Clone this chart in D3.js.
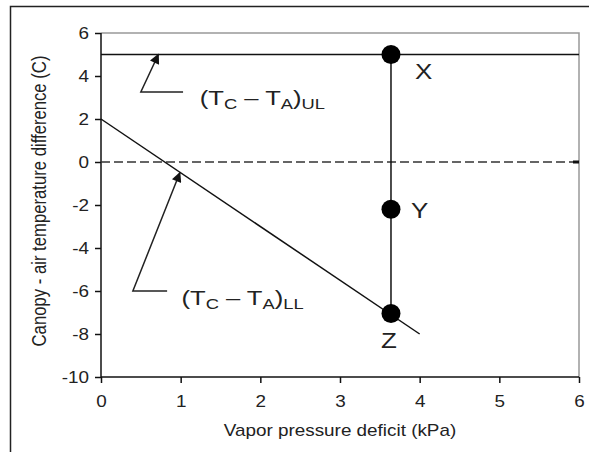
<!DOCTYPE html>
<html>
<head>
<meta charset="utf-8">
<script src="https://cdn.jsdelivr.net/npm/d3@7"></script>
<style>
  body { margin: 0; background: #fff; }
  text { font-family: "Liberation Sans", Arial, sans-serif; fill: #222; }
</style>
</head>
<body>
<svg width="589" height="452"></svg>
<script>
  // axis ticks
  let xTicks = [0, 1, 2, 3, 4, 5, 6];
  let yTicks = [-10, -8, -6, -4, -2, 0, 2, 4, 6];

  // upper limit, zero reference and lower limit baseline
  let upperLimit = 5;
  let zeroLine = 0;
  let lowerLimit = [{ x: 0, y: 2 }, { x: 4, y: -8 }];

  // the measured point at one VPD
  let pointNames = ["X", "Y", "Z"];
  let pointVpd = 3.64;
  let pointValues = [5, -2.2, -7.05];

  // text in the picture is a bit wider than the font
  let stretch = 1.18;

  let svg = d3.select("svg");

  let x = d3.scaleLinear().domain([0, 6]).range([101, 579]);
  let y = d3.scaleLinear().domain([-10, 6]).range([377, 33]);

  // outer frame (only top and left are visible)
  svg.append("path")
      .attr("d", "M10.5,452 V6.5 H589")
      .attr("fill", "none")
      .attr("stroke", "#222")
      .attr("stroke-width", 1.5);

  // grey box on top and right
  svg.append("path")
      .attr("d", `M${x(0)},${y(6)} H${x(6)} V${y(-10)}`)
      .attr("fill", "none")
      .attr("stroke", "#999")
      .attr("stroke-width", 1.5);

  let xAxis = svg.append("g")
      .attr("transform", `translate(0,${y(-10)})`)
      .call(d3.axisBottom(x).tickValues(xTicks).tickSize(6).tickPadding(13).tickFormat((d) => String(d)));

  let yAxis = svg.append("g")
      .attr("transform", `translate(${x(0)},0)`)
      .call(d3.axisLeft(y).tickValues(yTicks).tickSize(6).tickPadding(8).tickFormat((d) => String(d)));

  [xAxis, yAxis].forEach((g) => {
    g.select(".domain").attr("stroke", "#111").attr("stroke-width", 1.5);
    g.selectAll(".tick line").attr("stroke", "#111").attr("stroke-width", 1.5);
    g.selectAll(".tick text")
        .attr("fill", "#222")
        .style("font-family", "Liberation Sans, Arial, sans-serif")
        .style("font-size", "16px");
  });
  xAxis.selectAll(".tick text").attr("transform", `scale(${stretch},1)`);
  yAxis.selectAll(".tick text")
      .attr("x", -12 / stretch)
      .attr("transform", `scale(${stretch},1)`);
  xAxis.select(".domain").attr("d", `M${x(0)},0 H${x(6)}`);
  yAxis.select(".domain").attr("d", `M0,${y(6)} V${y(-10)}`);

  // axis titles
  svg.append("text")
      .attr("transform", `translate(${(x(0) + x(6)) / 2},436) scale(${stretch},1)`)
      .attr("text-anchor", "middle")
      .style("font-size", "16px")
      .text("Vapor pressure deficit (kPa)");

  svg.append("text")
      .attr("transform", `translate(46,${(y(6) + y(-10)) / 2 - 4}) rotate(-90) scale(1,${stretch})`)
      .attr("text-anchor", "middle")
      .style("font-size", "16.7px")
      .text("Canopy - air temperature difference (C)");

  // reference lines
  svg.append("line")
      .attr("x1", x(0)).attr("x2", x(6))
      .attr("y1", y(upperLimit)).attr("y2", y(upperLimit))
      .attr("stroke", "#111")
      .attr("stroke-width", 1.5);

  svg.append("line")
      .attr("x1", x(0)).attr("x2", x(6) - 4)
      .attr("y1", y(zeroLine)).attr("y2", y(zeroLine))
      .attr("stroke", "#333")
      .attr("stroke-width", 1.5)
      .attr("stroke-dasharray", "9,4");

  svg.append("rect")
      .attr("x", x(6) - 6).attr("y", y(zeroLine) - 1.5)
      .attr("width", 6).attr("height", 3)
      .attr("fill", "#111");

  let line = d3.line().x((d) => x(d.x)).y((d) => y(d.y));
  svg.append("path")
      .datum(lowerLimit)
      .attr("d", line)
      .attr("fill", "none")
      .attr("stroke", "#111")
      .attr("stroke-width", 1.5);

  // vertical connector and points
  svg.append("line")
      .attr("x1", x(pointVpd)).attr("x2", x(pointVpd))
      .attr("y1", y(d3.max(pointValues))).attr("y2", y(d3.min(pointValues)))
      .attr("stroke", "#111")
      .attr("stroke-width", 1.5);

  svg.selectAll("circle.pt")
      .data(pointValues)
    .enter().append("circle")
      .attr("class", "pt")
      .attr("cx", x(pointVpd))
      .attr("cy", (d) => y(d))
      .attr("r", 9.5)
      .attr("fill", "#000");

  let labelOffsets = [[24, 24], [20, 9], [-10, 34]];
  svg.selectAll("text.pt")
      .data(pointValues)
    .enter().append("text")
      .attr("class", "pt")
      .attr("transform", (d, i) =>
        `translate(${x(pointVpd) + labelOffsets[i][0]},${y(d) + labelOffsets[i][1]}) scale(${stretch},1)`)
      .style("font-size", "22px")
      .text((d, i) => pointNames[i]);

  // annotations with arrows
  svg.append("defs").append("marker")
      .attr("id", "arrow")
      .attr("viewBox", "0 0 10 10")
      .attr("refX", 9).attr("refY", 5)
      .attr("markerWidth", 11).attr("markerHeight", 10)
      .attr("markerUnits", "userSpaceOnUse")
      .attr("orient", "auto")
    .append("path")
      .attr("d", "M0,0 L10,5 L0,10 z")
      .attr("fill", "#111");

  let notes = [
    { tip: [0.72, 5], corner: [0.5, 3.26], end: 1.03, label: [1.24, 3.02], sub: "UL" },
    { tip: [0.99, -0.5], corner: [0.4, -6.0], end: 0.83, label: [1.01, -6.28], sub: "LL" }
  ];

  notes.forEach((n) => {
    svg.append("path")
        .attr("d", `M${x(n.end)},${y(n.corner[1])} H${x(n.corner[0])} L${x(n.tip[0])},${y(n.tip[1])}`)
        .attr("fill", "none")
        .attr("stroke", "#222")
        .attr("stroke-width", 1.5)
        .attr("marker-end", "url(#arrow)");

    let t = svg.append("text")
        .attr("transform", `translate(${x(n.label[0])},${y(n.label[1]) + 8}) scale(1.22,1)`)
        .style("font-size", "21px");
    t.append("tspan").text("(T");
    t.append("tspan").attr("dy", 4).style("font-size", "15px").text("C");
    t.append("tspan").attr("dy", -4).text(" \u2013 T");
    t.append("tspan").attr("dy", 4).style("font-size", "15px").text("A");
    t.append("tspan").attr("dy", -4).text(")");
    t.append("tspan").attr("dy", 4).style("font-size", "15px").text(n.sub);
  });
</script>
</body>
</html>
